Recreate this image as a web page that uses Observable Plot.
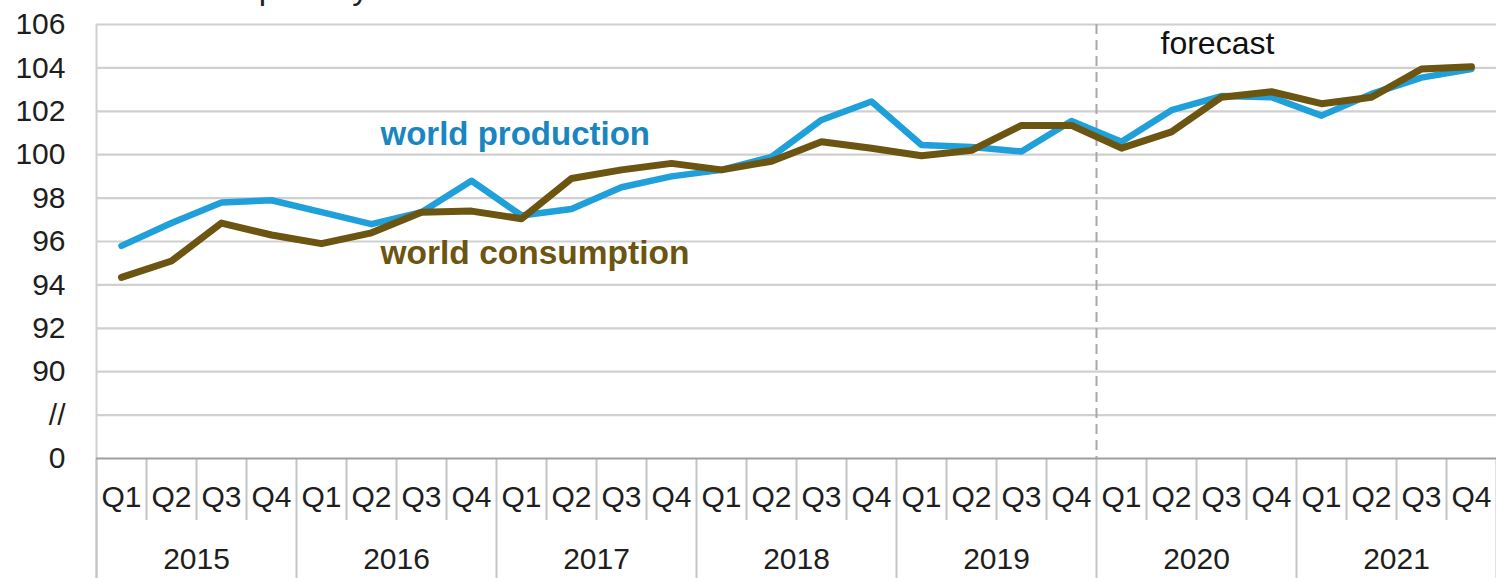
<!DOCTYPE html>
<html>
<head>
<meta charset="utf-8">
<script src="https://cdn.jsdelivr.net/npm/d3@7"></script>
<script src="https://cdn.jsdelivr.net/npm/@observablehq/plot@0.6"></script>
<style>
  html, body { margin: 0; padding: 0; background: #fff; overflow: hidden; }
  #wrap { position: relative; width: 1496px; height: 578px; }
  #subtitle { position: absolute; left: 46px; top: -28px; font: 33px "Liberation Sans", Arial, sans-serif; line-height: 32px; color: #222; white-space: nowrap; }
  #chart { position: absolute; left: 0; top: 0; }
</style>
</head>
<body>
<div id="wrap">
  <div id="chart"></div>
  <div id="subtitle">million barrels per day</div>
</div>
<script>
const years = ["2015", "2016", "2017", "2018", "2019", "2020", "2021"];
const quarters = ["Q1", "Q2", "Q3", "Q4"];
const production = [
  95.8, 96.85, 97.8, 97.9,
  97.35, 96.8, 97.35, 98.8,
  97.2, 97.5, 98.5, 99.0,
  99.3, 99.9, 101.6, 102.45,
  100.45, 100.35, 100.15, 101.55,
  100.6, 102.05, 102.7, 102.65,
  101.8, 102.8, 103.55, 103.95
];
const consumption = [
  94.35, 95.1, 96.85, 96.3,
  95.9, 96.4, 97.35, 97.4,
  97.05, 98.9, 99.3, 99.6,
  99.3, 99.7, 100.6, 100.3,
  99.95, 100.2, 101.35, 101.35,
  100.3, 101.05, 102.65, 102.9,
  102.35, 102.65, 103.95, 104.05
];
const yTickValues = [86, 88, 90, 92, 94, 96, 98, 100, 102, 104, 106];
const yTickLabels = ["0", "//", "90", "92", "94", "96", "98", "100", "102", "104", "106"];
const forecastYear = "2020";

const nQ = years.length * quarters.length;
const periods = d3.range(nQ).map(i => ({
  pos: i + 0.5,
  quarter: quarters[i % 4],
  production: production[i],
  consumption: consumption[i]
}));
const yearCenters = years.map((y, j) => ({pos: j * 4 + 2, year: y}));
const boundaries = d3.range(0, nQ + 1);
const quarterBounds = boundaries.filter(b => b % 4 !== 0);
const yearBounds = boundaries.filter(b => b % 4 === 0);
const forecastPos = years.indexOf(forecastYear) * 4;
const yMin = yTickValues[0], yMax = yTickValues[yTickValues.length - 1];

const chart = Plot.plot({
  width: 1496,
  height: 578,
  marginLeft: 96,
  marginRight: 0,
  marginTop: 24,
  marginBottom: 120,
  style: {fontFamily: "'Liberation Sans', Arial, sans-serif", fontSize: "30px", color: "#1e1e1e", background: "#fff", overflow: "visible"},
  x: {domain: [0, nQ], axis: null},
  y: {domain: [yMin, yMax], axis: null},
  marks: [
    Plot.gridY(yTickValues.slice(1), {stroke: "#d0d0d0", strokeOpacity: 1, strokeWidth: 2.2}),
    Plot.axisY({ticks: yTickValues, tickFormat: d => yTickLabels[yTickValues.indexOf(d)], tickSize: 0, tickPadding: 31, fontSize: 30, label: null}),
    Plot.ruleX([0], {stroke: "#cfcfcf", strokeWidth: 2, insetBottom: -120}),
    Plot.ruleX(quarterBounds, {y1: yMin, y2: yMin, insetBottom: -62, stroke: "#c4c4c4", strokeWidth: 2}),
    Plot.ruleX(yearBounds, {y1: yMin, y2: yMin, insetBottom: -120, stroke: "#c4c4c4", strokeWidth: 2}),
    Plot.ruleY([yMin], {stroke: "#a0a0a0", strokeWidth: 2}),
    Plot.ruleX([forecastPos], {y1: yMax, y2: yMin, stroke: "#a8a8a8", strokeWidth: 2, strokeDasharray: "10,6"}),
    Plot.line(periods, {x: "pos", y: "production", stroke: "#1fa0da", strokeWidth: 6.5, strokeLinejoin: "round"}),
    Plot.line(periods, {x: "pos", y: "consumption", stroke: "#6b5511", strokeWidth: 7, strokeLinejoin: "round"}),
    Plot.text(periods, {x: "pos", y: () => yMin, text: "quarter", dy: 39, fontSize: 30, fill: "#1e1e1e"}),
    Plot.text(yearCenters, {x: "pos", y: () => yMin, text: "year", dy: 101, fontSize: 30, fill: "#1e1e1e"}),
    Plot.text(["world production"], {x: 5.68, y: 100.92, text: d => d, textAnchor: "start", fontSize: 33, fontWeight: "bold", fill: "#1a86bf"}),
    Plot.text(["world consumption"], {x: 5.68, y: 95.47, text: d => d, textAnchor: "start", fontSize: 33.5, fontWeight: "bold", fill: "#6b5511"}),
    Plot.text(["forecast"], {x: 21.28, y: 105.12, text: d => d, textAnchor: "start", fontSize: 32, fill: "#111"})
  ]
});
document.getElementById("chart").appendChild(chart);
</script>
</body>
</html>
